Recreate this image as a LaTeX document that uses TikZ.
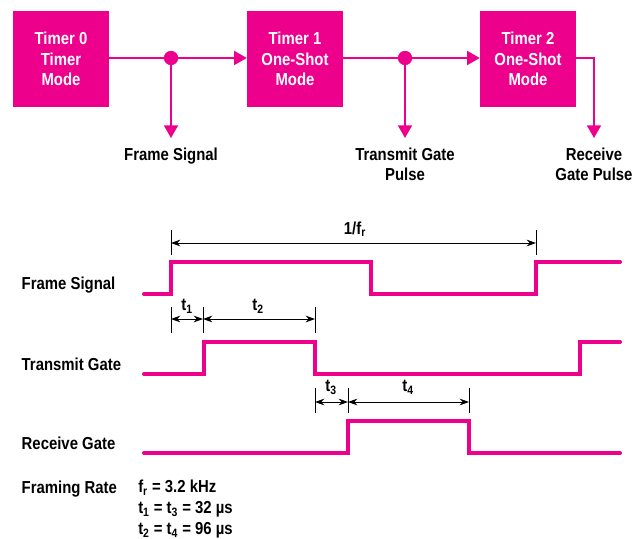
\documentclass[tikz,border=0pt]{standalone}
\usepackage{amsmath}
\usepackage{fontspec}
\setmainfont{Liberation Sans}[FakeStretch=0.86]
\usepackage{tikz}
\usetikzlibrary{arrows.meta,positioning}
\definecolor{hppink}{RGB}{236,0,140}
\newcommand{\lowtxt}[1]{$_{\text{#1}}$}

\begin{document}
\begin{tikzpicture}[x=0.75pt, y=-0.75pt,
    every node/.style={font=\fontsize{13}{15.6}\selectfont\bfseries},
    timerbox/.style={fill=hppink, text=white, minimum width=72pt, minimum height=72pt, align=center, inner sep=0pt},
    dot/.style={circle, fill=hppink, inner sep=0pt, minimum size=10.5pt},
    conn/.style={hppink, line width=1.4pt, -{Triangle[length=9.5pt, width=10.5pt]}},
    lbl/.style={anchor=north, align=center, inner ysep=7pt},
    sig/.style={hppink, line width=3pt, line cap=round},
    dim/.style={black, line width=0.7pt, {Stealth[length=7pt, width=5pt]}-{Stealth[length=7pt, width=5pt]}},
    tick/.style={black, line width=0.7pt}]
    \useasboundingbox (0,0) rectangle (641,538);

    % Timer blocks
    \node[timerbox] (tm0) at (61,59) {Timer 0\\Timer\\Mode};
    \node[timerbox] (tm1) at (295,59) {Timer 1\\One-Shot\\Mode};
    \node[timerbox] (tm2) at (528,59) {Timer 2\\One-Shot\\Mode};

    % Branch points and outputs
    \node[dot] (jfs) at (171,58) {};
    \node[dot] (jtg) at (405,58) {};
    \node[lbl] (lfs) at (171,138) {Frame Signal};
    \node[lbl] (ltg) at (405,138) {Transmit Gate\\Pulse};
    \node[lbl] (lrg) at (594,138) {Receive\\Gate Pulse};

    \draw[conn] (tm0.east |- jfs) -- (tm1.west |- jfs);
    \draw[conn] (tm1.east |- jtg) -- (tm2.west |- jtg);
    \draw[conn] (jfs) -- (lfs.north);
    \draw[conn] (jtg) -- (ltg.north);
    \draw[conn] (tm2.east |- jtg) -| (lrg.north);
    \node[dot] at (jfs) {};
    \node[dot] at (jtg) {};

    % Signal names
    \node[anchor=west] (nfs) at (17,285) {Frame Signal};
    \node[anchor=west] (ntg) at (17,364) {Transmit Gate};
    \node[anchor=west] (nrg) at (17,443) {Receive Gate};
    \node[anchor=west] (nfr) at (17,489) {Framing Rate};

    % Waveforms
    \draw[sig] (144,294) -- (171,294) -- (171,262) -- (371,262) -- (371,294)
        -- (536,294) -- (536,262) -- (620,262);
    \draw[sig] (144,374) -- (204,374) -- (204,342) -- (315,342) -- (315,374)
        -- (580,374) -- (580,342) -- (620,342);
    \draw[sig] (144,453) -- (348,453) -- (348,421) -- (469,421) -- (469,453)
        -- (620,453);

    % Timing marks
    \foreach \x in {171,536} \draw[tick] (\x,230) -- (\x,255);
    \foreach \x in {171,203,315} \draw[tick] (\x,307) -- (\x,333);
    \foreach \x in {315,348,469} \draw[tick] (\x,388) -- (\x,413);
    \draw[dim] (171,243) -- (536,243);
    \draw[dim] (171,319) -- (203,319);
    \draw[dim] (203,319) -- (315,319);
    \draw[dim] (315,402) -- (348,402);
    \draw[dim] (348,402) -- (469,402);
    \node (dfr) at (355,229) {1/f\lowtxt{r}};
    \node (dt1) at (187,306) {t\lowtxt{1}};
    \node (dt2) at (258,306) {t\lowtxt{2}};
    \node (dt3) at (331,387) {t\lowtxt{3}};
    \node (dt4) at (408,387) {t\lowtxt{4}};

    % Rates
    \node[anchor=west, align=left, inner xsep=0pt] (vals) at (138,509)
        {f\lowtxt{r} = 3.2 kHz\\t\lowtxt{1} = t\lowtxt{3} = 32 µs\\t\lowtxt{2} = t\lowtxt{4} = 96 µs};
\end{tikzpicture}
\end{document}
